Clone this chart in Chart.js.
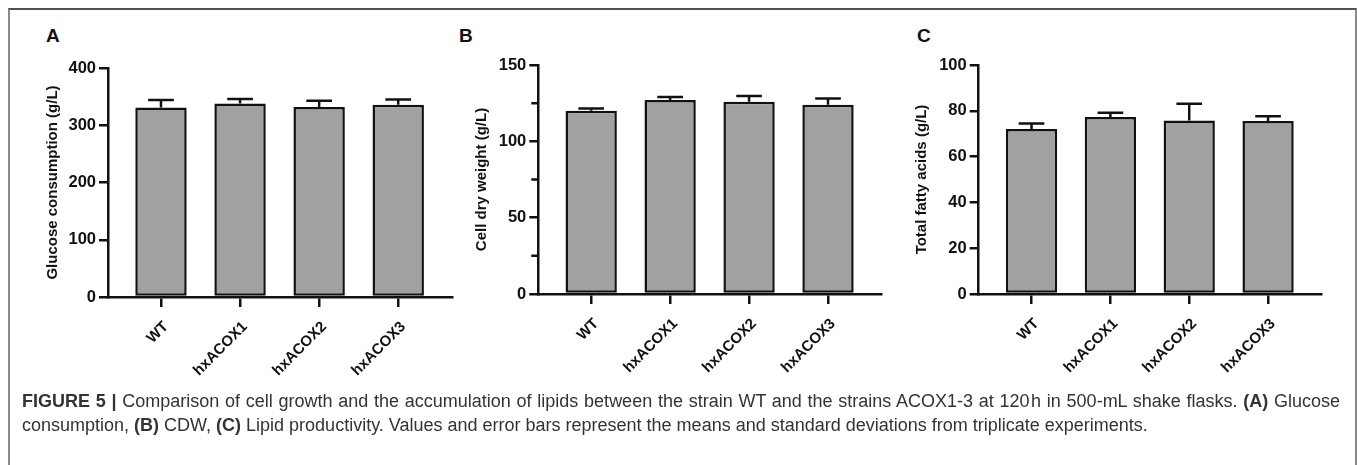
<!DOCTYPE html>
<html>
<head>
<meta charset="utf-8">
<script src="https://cdn.jsdelivr.net/npm/chart.js@4.4.1/dist/chart.umd.min.js"></script>
<style>
    body { margin: 0; background: #fff; width: 1357px; height: 465px; overflow: hidden; position: relative; font-family: 'Liberation Sans', Arial, sans-serif; }
    #frame { position: absolute; left: 8px; top: 8px; width: 1345px; height: 470px; border: 2px solid #8a8a8a; border-top-color: #505050; }
    canvas { position: absolute; top: 0; }
    .panel { position: absolute; top: 25px; font-weight: bold; font-size: 19px; color: #111; }
    #caption { position: absolute; left: 22px; top: 389px; width: 1318px; font-size: 18px; line-height: 24px; color: #333; }
    #caption .l1 { text-align: justify; text-align-last: justify; white-space: nowrap; }
</style>
</head>
<body>
<div id="frame"></div>
<div class="panel" style="left:46px">A</div>
<div class="panel" style="left:459px">B</div>
<div class="panel" style="left:917px">C</div>
<canvas id="chartA" width="470" height="390" style="left:0px"></canvas>
<canvas id="chartB" width="440" height="390" style="left:450px"></canvas>
<canvas id="chartC" width="440" height="390" style="left:900px"></canvas>
<div id="caption">
    <div class="l1"><b>FIGURE 5 |</b> Comparison of cell growth and the accumulation of lipids between the strain WT and the strains ACOX1-3 at 120&#8202;h in 500-mL shake flasks. <b>(A)</b> Glucose</div>
    <div>consumption, <b>(B)</b> CDW, <b>(C)</b> Lipid productivity. Values and error bars represent the means and standard deviations from triplicate experiments.</div>
</div>
<script>
// strains on the x axis
const categories = ['WT', 'hxACOX1', 'hxACOX2', 'hxACOX3'];

// (A) glucose consumption, g/L
const glucoseMeans = [331, 338, 332, 336];
const glucoseSd = [13, 8, 11, 9];

// (B) cell dry weight, g/L
const cdwMeans = [120, 127, 126, 124];
const cdwSd = [1.5, 2, 3.7, 4];

// (C) total fatty acids, g/L
const tfaMeans = [72, 77.3, 75.8, 75.5];
const tfaSd = [2.5, 1.9, 7.3, 2.1];

// y axis ticks (unlabelled ones are drawn as short minor ticks)
const glucoseTicks = [0, 100, 200, 300, 400];
const cdwTicks = [0, 25, 50, 75, 100, 125, 150];
const cdwLabelled = [0, 50, 100, 150];
const tfaTicks = [0, 20, 40, 60, 80, 100];

Chart.defaults.font.family = "'Liberation Sans', Arial, sans-serif";
Chart.defaults.color = '#111';

// draws the upper half of the SD whiskers on top of every bar
const errorBars = {
    id: 'errorBars',
    afterDatasetsDraw(chart) {
        const ctx = chart.ctx;
        const yScale = chart.scales.y;
        chart.data.datasets.forEach((ds, di) => {
            const meta = chart.getDatasetMeta(di);
            meta.data.forEach((bar, i) => {
                const top = yScale.getPixelForValue(ds.data[i].y + ds.sd[i]);
                const cap = bar.width * 0.5;
                ctx.save();
                ctx.strokeStyle = '#111';
                ctx.lineWidth = 2.5;
                ctx.beginPath();
                ctx.moveTo(bar.x, bar.y);
                ctx.lineTo(bar.x, top);
                ctx.moveTo(bar.x - cap / 2, top);
                ctx.lineTo(bar.x + cap / 2, top);
                ctx.stroke();
                ctx.restore();
            });
        });
    }
};

// short tick marks for the unlabelled y values
const minorTicks = {
    id: 'minorTicks',
    afterDraw(chart, args, opts) {
        const yScale = chart.scales.y;
        const ctx = chart.ctx;
        const left = chart.chartArea.left;
        ctx.save();
        ctx.strokeStyle = '#111';
        ctx.lineWidth = 2.5;
        ctx.beginPath();
        yScale.ticks.forEach(t => {
            if (opts.labelled.includes(t.value)) return;
            const y = yScale.getPixelForValue(t.value);
            ctx.moveTo(left - 7, y);
            ctx.lineTo(left, y);
        });
        ctx.stroke();
        ctx.restore();
    }
};

function makeChart(id, means, sd, yTicks, labelled, title, box) {
    const ctx = document.getElementById(id).getContext('2d');
    return new Chart(ctx, {
        type: 'bar',
        data: {
            datasets: [{
                data: means.map((v, i) => ({ x: i, y: v })),
                sd: sd,
                backgroundColor: '#a1a1a3',
                borderColor: '#111',
                borderWidth: 2.5,
                borderSkipped: false,
                barPercentage: 0.65,
                categoryPercentage: 1
            }]
        },
        options: {
            responsive: false,
            animation: false,
            events: [],
            layout: { padding: { left: 0, right: box.padRight, top: box.padTop, bottom: 0 } },
            plugins: {
                legend: { display: false },
                tooltip: { enabled: false },
                minorTicks: { labelled: labelled }
            },
            scales: {
                x: {
                    type: 'linear',
                    min: -0.67,
                    max: 3.68,
                    offset: false,
                    afterBuildTicks: (scale) => { scale.ticks = categories.map((c, i) => ({ value: i })); },
                    afterFit: (scale) => { scale.height = box.xHeight; },
                    grid: { offset: false, drawOnChartArea: false, drawTicks: true, tickLength: 10, color: '#111', lineWidth: 2.5 },
                    border: { color: '#111', width: 2.5 },
                    ticks: {
                        autoSkip: false,
                        maxRotation: 45,
                        minRotation: 45,
                        padding: 11,
                        labelOffset: 5,
                        font: { size: 15, weight: 'bold' },
                        callback: (v) => categories[v] ?? ''
                    }
                },
                y: {
                    min: 0,
                    max: yTicks[yTicks.length - 1],
                    afterBuildTicks: (scale) => { scale.ticks = yTicks.map(v => ({ value: v })); },
                    afterFit: (scale) => { scale.width = box.yWidth; },
                    grid: {
                        drawOnChartArea: false,
                        drawTicks: true,
                        tickLength: 9,
                        color: '#111',
                        lineWidth: 2.5,
                        tickColor: (c) => labelled.includes(c.tick.value) ? '#111' : 'rgba(0,0,0,0)'
                    },
                    border: { color: '#111', width: 2.5 },
                    ticks: {
                        padding: 3,
                        font: { size: 16.5, weight: 'bold' },
                        callback: (v) => labelled.includes(v) ? v : ''
                    },
                    title: {
                        display: true,
                        text: title,
                        font: { size: 15, weight: 'bold' },
                        padding: { top: box.titlePad, bottom: 0 }
                    }
                }
            }
        },
        plugins: [errorBars, minorTicks]
    });
}

makeChart('chartA', glucoseMeans, glucoseSd, glucoseTicks, glucoseTicks, 'Glucose consumption (g/L)',
    { padTop: 68, padRight: 18, xHeight: 93, yWidth: 108, titlePad: 44 });
makeChart('chartB', cdwMeans, cdwSd, cdwTicks, cdwLabelled, 'Cell dry weight (g/L)',
    { padTop: 65, padRight: 8.3, xHeight: 96, yWidth: 88.3, titlePad: 23 });
makeChart('chartC', tfaMeans, tfaSd, tfaTicks, tfaTicks, 'Total fatty acids (g/L)',
    { padTop: 65, padRight: 18.3, xHeight: 96, yWidth: 78.7, titlePad: 12.7 });
</script>
</body>
</html>
